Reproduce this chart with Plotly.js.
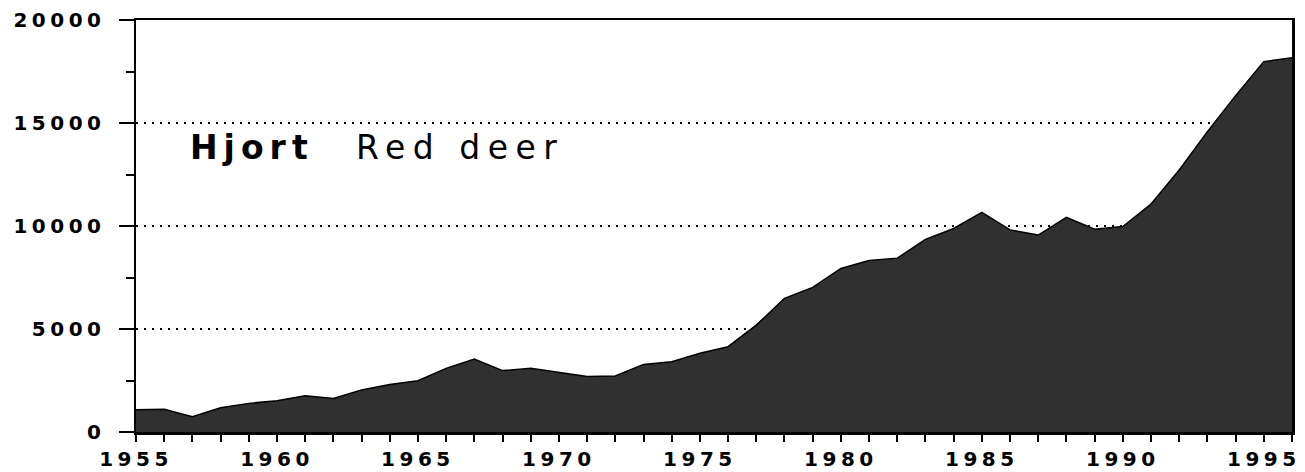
<!DOCTYPE html>
<html>
<head>
<meta charset="utf-8">
<script src="https://cdn.plot.ly/plotly-3.0.1.min.js"></script>
<style>
  html, body { margin: 0; padding: 0; background: #fff; }
  #chart { width: 1305px; height: 472px; }
  .xtick text, .ytick text { letter-spacing: 4.5px; }
  .annotation[data-index="0"] .annotation-text { letter-spacing: 6px; }
  .annotation[data-index="1"] .annotation-text { letter-spacing: 7.5px; }
</style>
</head>
<body>
<div id="chart"></div>
<script>
// Red deer (Hjort) harvest, Norway 1955-1996
const years = [1955, 1956, 1957, 1958, 1959, 1960, 1961, 1962, 1963, 1964,
               1965, 1966, 1967, 1968, 1969, 1970, 1971, 1972, 1973, 1974,
               1975, 1976, 1977, 1978, 1979, 1980, 1981, 1982, 1983, 1984,
               1985, 1986, 1987, 1988, 1989, 1990, 1991, 1992, 1993, 1994,
               1995, 1996];
const harvest = [1080, 1100, 740, 1180, 1390, 1520, 1760, 1630, 2040, 2310,
                 2490, 3090, 3540, 2980, 3090, 2880, 2690, 2720, 3280, 3410,
                 3820, 4140, 5190, 6490, 7020, 7940, 8320, 8440, 9350, 9880,
                 10660, 9810, 9560, 10420, 9840, 9970, 11070, 12720, 14580, 16330,
                 17980, 18170];
const xTickVals = [1955, 1960, 1965, 1970, 1975, 1980, 1985, 1990, 1995];
const yTickVals = [0, 5000, 10000, 15000, 20000];
const labelBold = "Hjort";
const labelPlain = "Red deer";

const tickFont = { family: "DejaVu Sans", size: 20, color: "#000", weight: "bold" };

const trace = {
  x: years,
  y: harvest,
  type: "scatter",
  mode: "lines",
  fill: "tozeroy",
  fillcolor: "#303030",
  line: { color: "#000", width: 1.5 },
  hoverinfo: "x+y"
};

const layout = {
  width: 1305,
  height: 472,
  margin: { l: 136, r: 13, t: 20, b: 40 },
  paper_bgcolor: "#fff",
  plot_bgcolor: "#fff",
  showlegend: false,
  xaxis: {
    range: [1955, 1996],
    tickvals: xTickVals,
    ticktext: xTickVals.map(String),
    ticks: "outside",
    ticklen: 7,
    tickwidth: 2,
    tickcolor: "#000",
    showline: true,
    linewidth: 2.5,
    linecolor: "#000",
    mirror: true,
    showgrid: false,
    zeroline: false,
    tickfont: tickFont,
    minor: { dtick: 1, tick0: 1955, ticks: "outside", ticklen: 7, tickwidth: 2, tickcolor: "#000", showgrid: false }
  },
  yaxis: {
    range: [0, 20000],
    tickvals: yTickVals,
    ticktext: yTickVals.map(String),
    ticks: "outside",
    ticklen: 15,
    tickwidth: 2,
    tickcolor: "#000",
    ticklabelstandoff: 9,
    showline: true,
    linewidth: 2.5,
    linecolor: "#000",
    mirror: true,
    showgrid: true,
    gridcolor: "#000",
    gridwidth: 1.5,
    griddash: "2px,6px",
    zeroline: false,
    tickfont: tickFont,
    minor: { dtick: 2500, tick0: 0, ticks: "outside", ticklen: 8, tickwidth: 2, tickcolor: "#000", showgrid: false }
  },
  annotations: [
    {
      text: labelBold,
      xref: "paper", yref: "paper",
      x: 0.1003, y: 0.69,
      xanchor: "center", yanchor: "middle",
      showarrow: false,
      font: { family: "DejaVu Sans", size: 33, color: "#000", weight: "bold" }
    },
    {
      text: labelPlain,
      xref: "paper", yref: "paper",
      x: 0.2803, y: 0.69,
      xanchor: "center", yanchor: "middle",
      showarrow: false,
      font: { family: "DejaVu Sans", size: 33, color: "#000" }
    }
  ]
};

Plotly.newPlot("chart", [trace], layout, { displayModeBar: false, staticPlot: true });
</script>
</body>
</html>
